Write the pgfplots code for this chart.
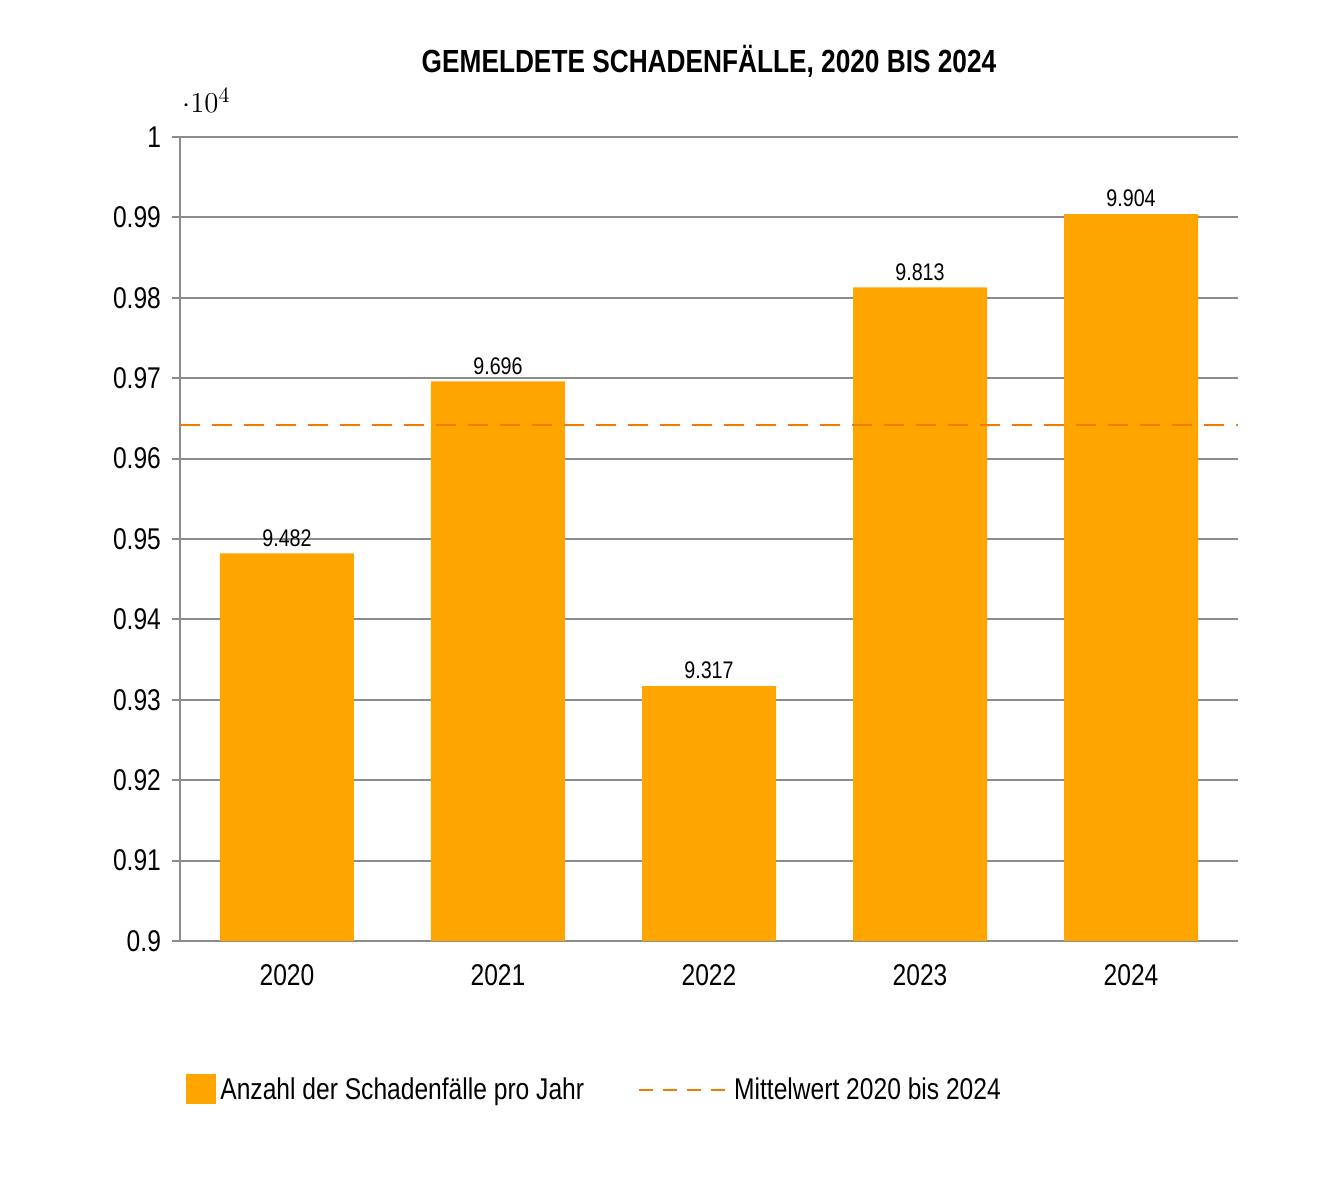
\documentclass[border=0pt]{standalone}
\usepackage{pgfplots}
\pgfplotsset{compat=1.18}
\usepackage{fontspec}
\setmainfont[FakeStretch=0.82]{Liberation Sans}
\definecolor{barc}{HTML}{FFA500}
\definecolor{meanc}{HTML}{F07D00}
\definecolor{gridc}{HTML}{8C8C8C}
\begin{document}
\begin{tikzpicture}
\path[use as bounding box] (-90pt,-128pt) rectangle (578.5pt,470.5pt);
\begin{axis}[
  scale only axis, width=529pt, height=402pt,
  at={(0,0)},
  xmin=-0.507, xmax=4.507, ymin=9000, ymax=10000,
  ytick={9000,9100,...,10000},
  xtick={0,1,2,3,4}, xticklabels={2020,2021,2022,2023,2024},
  extra x ticks={0.5,1.5,2.5,3.5,4.507}, extra x tick labels={},
  extra x tick style={major tick length=10pt, tick style={draw=gridc, line width=1pt}, tick align=inside, grid=none},
  major x tick style={draw=none},
  ymajorgrids, grid style={gridc, line width=1pt},
  axis x line*=bottom, axis y line*=left,
  axis line style={gridc, line width=1pt},
  y tick style={draw=gridc,line width=1pt}, tick align=outside, major tick length=4pt,
  /pgf/number format/.cd, 1000 sep={.}, assume math mode=true,
  /pgfplots/.cd,
  tick label style={font=\fontsize{15}{18}\selectfont},
  yticklabel style={xshift=-2pt},
  xticklabel style={yshift=-4pt},
  title={\bfseries GEMELDETE SCHADENFÄLLE, 2020 BIS 2024},
  title style={font=\fontsize{16}{19}\selectfont, yshift=20pt},
  legend style={at={(0,-0.16)}, anchor=north west, draw=none, legend columns=2,
    font=\fontsize{15}{18}\selectfont, /tikz/every even column/.append style={column sep=25pt}},
  legend image code/.code={},
]
\addplot[ybar, bar width=67pt, fill=barc, draw=none,
  nodes near coords, nodes near coords style={font=\fontsize{12}{14}\selectfont, black, /pgf/number format/1000 sep={.}},
  area legend, legend image code/.code={\fill[barc] (0pt,-7pt) rectangle (15pt,8pt);}]
 coordinates {(0,9482) (1,9696) (2,9317) (3,9813) (4,9904)};
\addlegendentry{Anzahl der Schadenfälle pro Jahr}
\addplot[meanc, line width=1pt, dash pattern=on 10pt off 6pt,
  legend image code/.code={\draw[meanc, line width=1pt, dash pattern=on 7pt off 5pt] (-25pt,0) -- (20pt,0);}]
 coordinates {(-0.507,9642) (4.507,9642)}
 node[pos=1, right, xshift=4pt, font=\fontsize{12.5}{14}\selectfont, text=meanc] {9.642};
\addlegendentry{Mittelwert 2020 bis 2024}
\node[anchor=west, font=\fontsize{11}{13}\selectfont] at (rel axis cs:0,-0.285) {Datenbasis: 48.212 gemeldete Schadenfälle};
\end{axis}
\end{tikzpicture}
\end{document}
